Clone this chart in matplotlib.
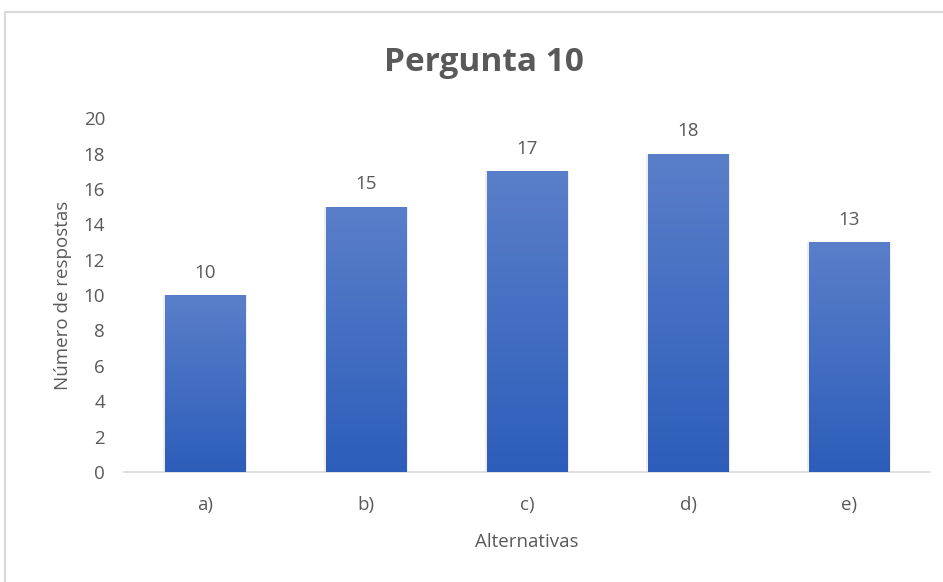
import numpy as np
import matplotlib
matplotlib.use("Agg")
from matplotlib import pyplot as plt
from matplotlib.colors import LinearSegmentedColormap

categories = ['a)', 'b)', 'c)', 'd)', 'e)']
values = [10, 15, 17, 18, 13]
yticks = [0, 2, 4, 6, 8, 10, 12, 14, 16, 18, 20]

plt.rcParams['font.family'] = ['Open Sans', 'DejaVu Sans']
txt = '#595959'

fig = plt.figure(figsize=(9.43, 5.82), dpi=100)
ax = fig.add_axes([0.132, 0.189, 0.8537, 0.608])

# chart area border (top and left visible)
fig.add_artist(plt.Line2D([0.0055, 1.0], [0.979, 0.979], color='#d9d9d9', lw=1.5))
fig.add_artist(plt.Line2D([0.0055, 0.0055], [0.0, 0.979], color='#d9d9d9', lw=1.5))

x = np.arange(len(categories))
bars = ax.bar(x, values, width=0.5, color='none', edgecolor='none', zorder=2)

# gradient fill, clipped to each bar
cmap = LinearSegmentedColormap.from_list('blu', ['#2d5dba', '#5a7fca'])
grad = np.linspace(0, 1, 256).reshape(-1, 1)
for b in bars:
    x0, w, h = b.get_x(), b.get_width(), b.get_height()
    # soft shadow
    ax.bar(x0 + w / 2, h, width=w + 0.025, color='#000000', alpha=0.07,
           zorder=1, edgecolor='none')
    im = ax.imshow(grad, extent=[x0, x0 + w, 0, h], origin='lower', cmap=cmap,
                   aspect='auto', zorder=3)
    im.set_clip_path(b)
    ax.text(x0 + w / 2, h + 0.75, str(int(h)), ha='center', va='bottom',
            fontsize=13.5, color=txt)

ax.set_xlim(-0.5, len(categories) - 0.5)
ax.set_ylim(0, 20)
ax.set_yticks(yticks)
ax.set_xticks(x)
ax.set_xticklabels(categories)
ax.tick_params(axis='both', length=0, labelsize=13.5, labelcolor=txt)
ax.tick_params(axis='x', pad=17)
ax.tick_params(axis='y', pad=14)
for s in ['top', 'right', 'left']:
    ax.spines[s].set_visible(False)
ax.spines['bottom'].set_color('#d9d9d9')
ax.spines['bottom'].set_linewidth(1.2)

ax.set_xlabel('Alternativas', fontsize=13.5, color=txt, labelpad=14)
ax.set_ylabel('Número de respostas', fontsize=13.5, color=txt, labelpad=8)
fig.text(0.513, 0.893, 'Pergunta 10', ha='center', va='center', fontsize=24,
         fontweight='bold', color=txt)

fig.savefig('out.png', dpi=100)
